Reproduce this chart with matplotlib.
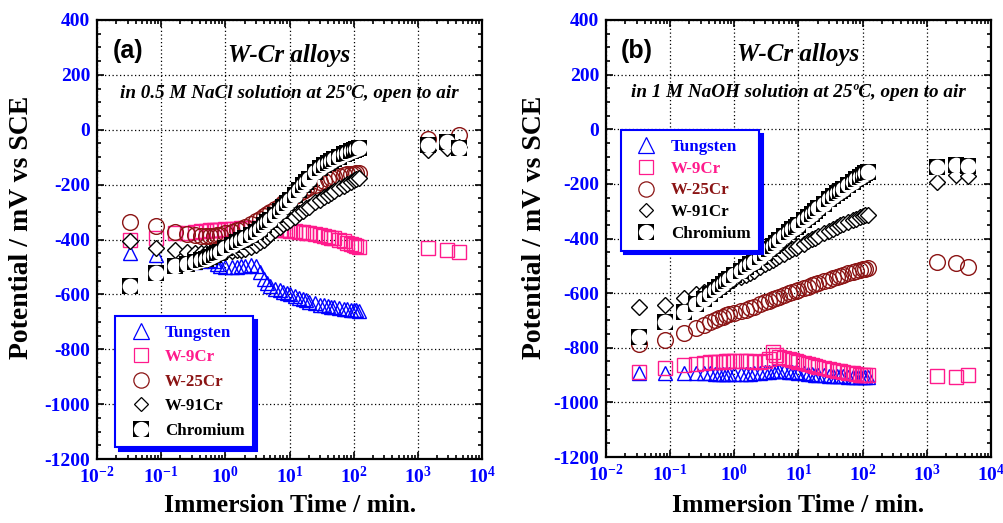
import numpy as np
import matplotlib
matplotlib.use("Agg")
import matplotlib.pyplot as plt
from matplotlib.ticker import FixedLocator, FuncFormatter, LogLocator, NullFormatter, MultipleLocator
from matplotlib.legend_handler import HandlerTuple
from matplotlib.lines import Line2D

plt.rcParams['font.family'] = ['Liberation Serif', 'DejaVu Serif']
plt.rcParams['font.weight'] = 'bold'
plt.rcParams['axes.unicode_minus'] = False
plt.rcParams['mathtext.fontset'] = 'custom'
plt.rcParams['mathtext.bf'] = 'Liberation Serif:bold'
plt.rcParams['mathtext.rm'] = 'Liberation Serif:bold'

# ---------------- data ----------------
t = [0.033, 0.083, 0.167, 0.25, 0.333, 0.417, 0.5, 0.583, 0.667, 0.75, 0.833, 1.0,
     1.25, 1.5, 1.75, 2.0, 2.5, 3.0, 3.5, 4.0, 4.5, 5.0, 6.0, 7.0, 8.0, 9.0, 10,
     12, 14, 16, 18, 20, 25, 30, 35, 40, 45, 50, 60, 70, 80, 90, 100, 110, 120]
t_long = [1440, 2880, 4320]

series_names = ['Tungsten', 'W-9Cr', 'W-25Cr', 'W-91Cr', 'Chromium']

# panel (a): 0.5 M NaCl
a_tungsten = [-450, -456, -490, -486, -482, -478, -476, -476, -480, -488, -495, -502,
              -502, -500, -498, -496, -494, -495, -520, -545, -560, -570, -580, -585, -590, -594, -598,
              -605, -612, -618, -622, -626, -632, -637, -640, -643, -645, -647, -650, -652, -654, -656, -657, -658, -660]
a_w9 = [-400, -395, -378, -375, -372, -370, -368, -367, -366, -365, -364, -362,
        -361, -360, -359, -358, -357, -357, -357, -358, -359, -360, -362, -364, -366, -367, -368,
        -370, -372, -374, -376, -378, -381, -384, -387, -390, -393, -396, -402, -407, -412, -416, -420, -423, -426]
a_w9_long = [-432, -440, -445]
a_w25 = [-336, -352, -373, -380, -384, -386, -387, -387, -386, -385, -383, -378,
         -372, -366, -360, -353, -343, -333, -324, -316, -308, -300, -288, -278, -268, -260, -252,
         -240, -230, -222, -215, -210, -200, -192, -186, -181, -177, -174, -169, -166, -163, -161, -160, -159, -158]
a_w25_long = [-34, -45, -20]
a_w91 = [-405, -432, -440, -445, -448, -450, -450, -450, -450, -449, -448, -446,
         -443, -440, -437, -434, -428, -420, -410, -400, -390, -380, -365, -355, -345, -337, -330,
         -318, -305, -295, -287, -280, -265, -255, -245, -237, -230, -224, -214, -205, -197, -190, -184, -180, -176]
a_w91_long = [-74, -66, -62]
a_cr = [-570, -522, -495, -488, -482, -476, -470, -465, -458, -450, -445, -432,
        -420, -410, -402, -396, -385, -372, -360, -348, -338, -328, -310, -295, -280, -268, -256,
        -238, -218, -200, -190, -180, -155, -140, -130, -120, -113, -107, -98, -90, -84, -78, -73, -70, -67]
a_cr_long = [-55, -45, -66]

# panel (b): 1 M NaOH
b_tungsten = [-892, -892, -893, -893, -894, -894, -895, -895, -896, -896, -897, -897,
              -897, -896, -895, -894, -892, -890, -888, -886, -885, -885, -886, -888, -889, -890, -891,
              -893, -895, -897, -898, -899, -901, -902, -903, -904, -905, -905, -906, -907, -907, -908, -908, -908, -908]
b_w9 = [-888, -874, -863, -858, -855, -853, -852, -851, -851, -850, -850, -850,
        -850, -850, -850, -851, -851, -850, -840, -815, -825, -833, -838, -842, -846, -849, -851,
        -856, -860, -864, -867, -870, -875, -879, -882, -884, -886, -888, -891, -894, -896, -898, -899, -900, -900]
b_w9_long = [-903, -906, -900]
b_w25 = [-785, -772, -746, -728, -716, -706, -698, -692, -686, -681, -677, -673,
         -666, -660, -655, -650, -641, -634, -628, -622, -618, -614, -607, -601, -596, -592, -589,
         -582, -576, -571, -567, -564, -557, -551, -546, -542, -538, -534, -528, -523, -519, -515, -512, -510, -508]
b_w25_long = [-486, -490, -504]
b_w91 = [-650, -645, -618, -605, -595, -587, -580, -574, -568, -563, -558, -550,
         -540, -532, -525, -518, -505, -495, -486, -478, -471, -465, -455, -447, -440, -434, -429,
         -419, -410, -403, -397, -392, -381, -372, -365, -358, -352, -347, -339, -333, -327, -322, -318, -315, -313]
b_w91_long = [-193, -168, -172]
b_cr = [-761, -706, -669, -640, -620, -603, -588, -576, -565, -556, -548, -534,
        -518, -506, -495, -486, -468, -452, -440, -428, -416, -406, -390, -377, -367, -358, -350,
        -334, -320, -309, -299, -290, -272, -257, -245, -235, -226, -218, -205, -193, -183, -175, -167, -160, -155]
b_cr_long = [-140, -130, -135]

x_ticks = [1e-2, 1e-1, 1e0, 1e1, 1e2, 1e3, 1e4]
y_ticks = [400, 200, 0, -200, -400, -600, -800, -1000, -1200]

BLUE = '#0000ff'
PINK = '#ff1a8c'
BROWN = '#8b1414'

fig = plt.figure(figsize=(10.04, 5.23), dpi=100)
ax_a = fig.add_axes([97/1004, 1-459/523, 385/1004, 439/523])
ax_b = fig.add_axes([606/1004, 1-457/523, 385/1004, 437/523])


def style_axis(ax):
    ax.set_xscale('log')
    ax.set_xlim(1e-2, 1e4)
    ax.set_ylim(-1200, 400)
    ax.xaxis.set_major_locator(FixedLocator(x_ticks))
    ax.xaxis.set_minor_locator(LogLocator(base=10, subs=np.arange(2, 10), numticks=20))
    ax.xaxis.set_minor_formatter(NullFormatter())
    ax.xaxis.set_major_formatter(FuncFormatter(lambda v, p: r'$\mathbf{10^{%d}}$' % round(np.log10(v))))
    ax.yaxis.set_major_locator(FixedLocator(y_ticks))
    ax.yaxis.set_minor_locator(MultipleLocator(50))
    ax.yaxis.set_major_formatter(FuncFormatter(lambda v, p: '%d' % v))
    ax.tick_params(which='both', direction='in', top=True, right=True, width=1.2)
    ax.tick_params(which='major', length=5, labelsize=14, labelcolor=BLUE, pad=5)
    ax.tick_params(which='minor', length=3)
    for lab in ax.get_xticklabels() + ax.get_yticklabels():
        lab.set_fontweight('bold')
    for s in ax.spines.values():
        s.set_linewidth(1.6)
    ax.grid(True, which='major', color='black', linestyle=(0, (1, 2)), linewidth=0.9)
    ax.set_axisbelow(True)


def plot_panel(ax, tw, w9, w9l, w25, w25l, w91, w91l, cr, crl):
    ax.plot(t, tw, ls='none', marker='^', ms=10, mfc='none', mec=BLUE, mew=1.0)
    ax.plot(t + t_long, w9 + w9l, ls='none', marker='s', ms=10.3, mfc='none', mec=PINK, mew=1.0)
    ax.plot(t + t_long, w25 + w25l, ls='none', marker='o', ms=11.3, mfc='none', mec=BROWN, mew=1.0)
    ax.plot(t + t_long, w91 + w91l, ls='none', marker='D', ms=7.8, mfc='white', mec='black', mew=1.0)
    for xi, yi in zip(t + t_long, cr + crl):
        ax.plot([xi], [yi], ls='none', marker='s', ms=11.8, mfc='black', mec='black', mew=0)
        ax.plot([xi], [yi], ls='none', marker='o', ms=11.3, mfc='white', mec='white', mew=0)


for ax in (ax_a, ax_b):
    style_axis(ax)

plot_panel(ax_a, a_tungsten, a_w9, a_w9_long, a_w25, a_w25_long, a_w91, a_w91_long, a_cr, a_cr_long)
plot_panel(ax_b, b_tungsten, b_w9, b_w9_long, b_w25, b_w25_long, b_w91, b_w91_long, b_cr, b_cr_long)

# legend handles
h_t = Line2D([], [], ls='none', marker='^', ms=11, mfc='none', mec=BLUE, mew=0.9)
h_9 = Line2D([], [], ls='none', marker='s', ms=10.5, mfc='none', mec=PINK, mew=0.9)
h_25 = Line2D([], [], ls='none', marker='o', ms=11, mfc='none', mec=BROWN, mew=0.9)
h_91 = Line2D([], [], ls='none', marker='D', ms=7.6, mfc='white', mec='black', mew=0.9)
h_cr1 = Line2D([], [], ls='none', marker='s', ms=11.5, mfc='black', mec='black', mew=0)
h_cr2 = Line2D([], [], ls='none', marker='o', ms=11, mfc='white', mec='white', mew=0)
handles = [h_t, h_9, h_25, h_91, (h_cr1, h_cr2)]
text_colors = [BLUE, PINK, BROWN, 'black', 'black']


def add_legend(ax, loc, anchor, spacing):
    leg = ax.legend(handles, series_names, loc=loc, bbox_to_anchor=anchor, borderaxespad=0,
                    numpoints=1, fancybox=False, framealpha=1, edgecolor=BLUE,
                    prop={'family': 'Liberation Serif', 'weight': 'bold', 'size': 12.2},
                    labelspacing=spacing, handlelength=2.0, handletextpad=0.45, borderpad=0.5,
                    shadow={'color': BLUE, 'alpha': 1, 'ox': 2.5, 'oy': -2.5},
                    handler_map={tuple: HandlerTuple(ndivide=1)})
    leg.get_frame().set_linewidth(1.5)
    for txt, c in zip(leg.get_texts(), text_colors):
        txt.set_color(c)
    return leg


add_legend(ax_a, 'lower left', (0.047, 0.027), 0.5)
add_legend(ax_b, 'upper left', (0.039, 0.748), 0.35)

# titles
panel_info = [(ax_a, '(a)', 'in 0.5 M NaCl solution at 25\u00baC, open to air'),
              (ax_b, '(b)', 'in 1 M NaOH solution at 25\u00baC, open to air')]
for ax, tag, sub in panel_info:
    ax.text(0.08, 0.929, tag, transform=ax.transAxes, ha='center', va='center',
            family='Liberation Sans', weight='bold', fontsize=18)
    ax.text(0.5, 0.92, 'W-Cr alloys', transform=ax.transAxes, ha='center', va='center',
            family='Liberation Serif', weight='bold', style='italic', fontsize=18)
    ax.text(0.5, 0.833, sub, transform=ax.transAxes, ha='center', va='center',
            family='Liberation Serif', weight='bold', style='italic', fontsize=13.8)

for xc, yc in [(22/1004, 1-227/523), (535/1004, 1-227/523)]:
    fig.text(xc, yc, 'Potential / mV vs SCE', rotation=90, ha='center', va='center',
             family='Liberation Serif', weight='bold', fontsize=20)
for xc in [290/1004, 798/1004]:
    fig.text(xc, 1-505/523, 'Immersion Time / min.', ha='center', va='center',
             family='Liberation Serif', weight='bold', fontsize=18.5)

fig.savefig('out.png', dpi=100, facecolor='white')
